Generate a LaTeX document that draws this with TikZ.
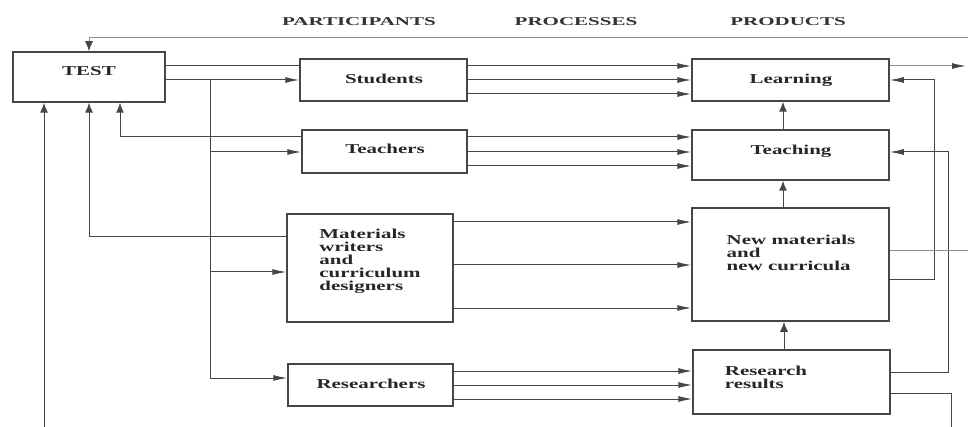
\documentclass[tikz,border=0pt]{standalone}
\usepackage{fontspec}
\setmainfont[FakeStretch=1.54]{Liberation Serif}
\newfontfamily\hdrfont[FakeStretch=1.75]{Liberation Serif}
\usetikzlibrary{arrows.meta}
\definecolor{ink}{RGB}{70,70,70}
\definecolor{faint}{RGB}{140,140,140}
\tikzset{
  box/.style={draw=ink,line width=1.5pt,rectangle,inner sep=0pt},
  lbl/.style={inner sep=0pt,font=\fontsize{13.6}{13}\selectfont\bfseries,text=black!85},
  mlbl/.style={lbl,align=left},
  hdr/.style={inner sep=0pt,font=\hdrfont\fontsize{12}{12}\selectfont\bfseries,text=black!80},
  ln/.style={draw=ink,line width=1pt},
  thin/.style={draw=faint,line width=1pt},
  arr/.style={ln,-{Latex[length=14pt,width=6pt]}},
  uparr/.style={ln,-{Latex[length=10pt,width=8pt]}},
}
\begin{document}
\begin{tikzpicture}[x=1pt,y=-1pt]
\useasboundingbox (0,0) rectangle (968,427);
% headers
\node[hdr] (h1) at (359,22) {PARTICIPANTS};
\node[hdr] (h2) at (576,22) {PROCESSES};
\node[hdr] (h3) at (788,22) {PRODUCTS};
% boxes
\node[box,minimum width=152pt,minimum height=50pt] (test) at (89,77) {};
\node[lbl] (testt) at (89,71) {TEST};
\node[box,minimum width=167pt,minimum height=42pt] (stu) at (383.5,80) {};
\node[lbl] (stut) at (384,79) {Students};
\node[box,minimum width=165pt,minimum height=43pt] (tea) at (384.5,151.5) {};
\node[lbl] (teat) at (385,149) {Teachers};
\node[box,minimum width=166pt,minimum height=108pt] (mat) at (370,268) {};
\node[mlbl] (matt) at (370,261) {Materials\\writers\\and\\curriculum\\designers};
\node[box,minimum width=165pt,minimum height=42pt] (res) at (370.5,385) {};
\node[lbl] (rest) at (371,384) {Researchers};
\node[box,minimum width=197pt,minimum height=42pt] (lea) at (790.5,80) {};
\node[lbl] (leat) at (791,80) {Learning};
\node[box,minimum width=197pt,minimum height=50pt] (tch) at (790.5,155) {};
\node[lbl] (tcht) at (791,151) {Teaching};
\node[box,minimum width=197pt,minimum height=113pt] (nm) at (790.5,264.5) {};
\node[mlbl] (nmt) at (791,253) {New materials\\and\\new curricula};
\node[box,minimum width=197pt,minimum height=64pt] (rr) at (791.5,382) {};
\node[mlbl] (rrt) at (766,377) {Research\\results};
% TEST -> participants
\draw[ln] (test.east |- 0,66) -- (stu.west |- 0,66);
\draw[arr] (test.east |- 0,80) -- (stu.west |- 0,80);
\coordinate (b1) at (210,80);
\coordinate (b2) at (210,152);
\coordinate (b3) at (210,272);
\coordinate (b4) at (210,378);
\draw[ln] (b1) -- (b4);
\draw[arr] (b2) -- (tea.west |- b2);
\draw[arr] (b3) -- (mat.west |- b3);
\draw[arr] (b4) -- (res.west |- b4);
% feedback to TEST
\draw[uparr] (tea.west |- 0,137) -| (test.south -| 120,0);
\draw[uparr] (mat.west |- 0,237) -| (test.south -| 89,0);
\coordinate (bot) at (44,427);
\draw[uparr] (bot) -- (test.south -| 44,0);
\coordinate (topr) at (968,38);
\draw[thin,-{Latex[length=10pt,width=8pt,fill=ink,color=ink]}] (topr) -| (test.north);
% participants -> products
\foreach \y in {66,80,94} \draw[arr] (stu.east |- 0,\y) -- (lea.west |- 0,\y);
\foreach \y in {137,152,166} \draw[arr] (tea.east |- 0,\y) -- (tch.west |- 0,\y);
\foreach \y in {222,265,308} \draw[arr] (mat.east |- 0,\y) -- (nm.west |- 0,\y);
\foreach \y in {371,385,399} \draw[arr] (res.east |- 0,\y) -- (rr.west |- 0,\y);
% vertical arrows
\draw[uparr] (tch.north -| 783,0) -- (lea.south -| 783,0);
\draw[uparr] (nm.north -| 783,0) -- (tch.south -| 783,0);
\draw[uparr] (rr.north -| 784,0) -- (nm.south -| 784,0);
% right side
\coordinate (out1) at (966,66);
\draw[thin,-{Latex[length=14pt,width=6pt,fill=ink,color=ink]}] (lea.east |- 0,66) -- (out1);
\draw[arr] (nm.east |- 0,280) -| (934,80) -- (lea.east |- 0,80);
\draw[arr] (rr.east |- 0,372) -| (948,152) -- (tch.east |- 0,152);
\coordinate (out2) at (968,251);
\draw[thin] (nm.east |- 0,251) -- (out2);
\coordinate (out3) at (951,427);
\draw[ln] (rr.east |- 0,393) -| (out3);
\end{tikzpicture}
\end{document}
